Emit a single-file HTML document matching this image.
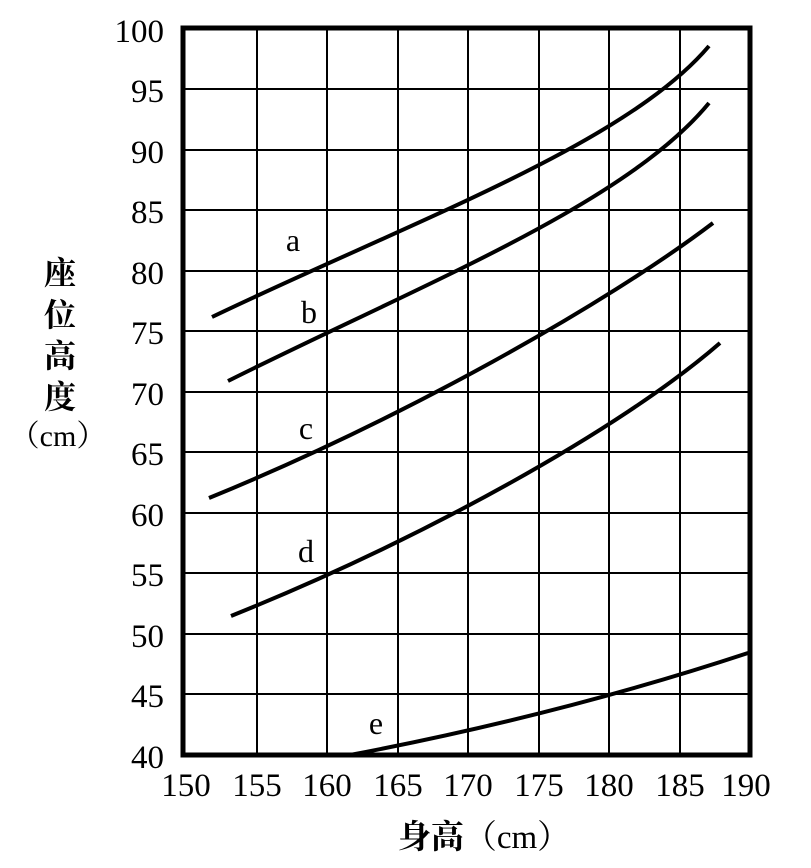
<!DOCTYPE html><html><head><meta charset="utf-8"><style>body{margin:0;background:#fff}</style></head><body>
<svg width="811" height="863" xmlns="http://www.w3.org/2000/svg" font-family="Liberation Serif, Noto Serif CJK SC, serif">
<rect width="811" height="863" fill="#fff"/>
<g stroke="#000" stroke-width="2" fill="none">
<path d="M257,27V755M327,27V755M398,27V755M468,27V755M539,27V755M609,27V755M680,27V755"/>
<path d="M183,89H751M183,150H751M183,210H751M183,271H751M183,331H751M183,392H751M183,452H751M183,513H751M183,573H751M183,634H751M183,694H751"/>
<rect x="183" y="28" width="567" height="727" stroke-width="5"/>
</g>
<g stroke="#000" stroke-width="4" fill="none">
<path d="M212,317 C410,222 625,145 709,46"/>
<path d="M228,381 C420,285 625,205 709,103"/>
<path d="M209,498 C400,420 605,305 713,223"/>
<path d="M231,616 C420,540 620,430 720,343"/>
<path d="M350,755 Q560,715 748,653"/>
</g>
<g font-size="32" text-anchor="middle">
<text x="293" y="251">a</text><text x="309" y="323">b</text><text x="306" y="439">c</text><text x="306" y="562">d</text><text x="376" y="734">e</text>
</g>
<g font-size="33" text-anchor="end">
<text x="164" y="42">100</text><text x="164" y="102">95</text><text x="164" y="163">90</text><text x="164" y="223">85</text><text x="164" y="284">80</text><text x="164" y="344">75</text><text x="164" y="405">70</text><text x="164" y="465">65</text><text x="164" y="526">60</text><text x="164" y="586">55</text><text x="164" y="647">50</text><text x="164" y="707">45</text><text x="164" y="768">40</text>
</g>
<g font-size="33" text-anchor="middle">
<text x="186" y="796">150</text><text x="257" y="796">155</text><text x="327" y="796">160</text><text x="398" y="796">165</text><text x="468" y="796">170</text><text x="539" y="796">175</text><text x="609" y="796">180</text><text x="680" y="796">185</text><text x="746" y="796">190</text>
</g>
<g font-size="32" text-anchor="middle" font-weight="bold">
<text x="60" y="284">座</text><text x="60" y="326">位</text><text x="60" y="367">高</text><text x="60" y="408">度</text>
</g>
<text x="58" y="446" font-size="30" text-anchor="middle">（cm）</text>
<text x="484" y="848" font-size="33" text-anchor="middle"><tspan font-weight="bold">身高</tspan>（cm）</text>
</svg></body></html>
